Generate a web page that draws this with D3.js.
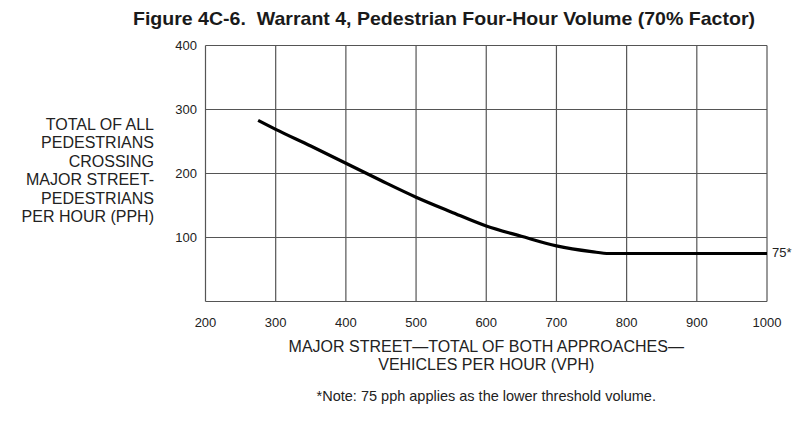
<!DOCTYPE html>
<html>
<head>
<meta charset="utf-8">
<script src="https://cdnjs.cloudflare.com/ajax/libs/d3/7.8.5/d3.min.js"></script>
<style>
  body { margin: 0; background: #fff; }
  svg { font-family: 'Liberation Sans', Arial, sans-serif; fill: #222; }
  .grid line { stroke: #555; stroke-width: 1.2px; }
  .title { white-space: pre; }
</style>
</head>
<body>
<svg id="chart" width="806" height="424"></svg>
<script>

// warrant curve (vph, pph)
const vph = [275, 300, 350, 400, 450, 500, 550, 600, 650, 700, 750, 775, 800, 900, 1000];
const pph = [283, 269, 243, 216, 189, 163, 140, 118, 102, 87, 78, 75, 75, 75, 75];

const xTicks = [200, 300, 400, 500, 600, 700, 800, 900, 1000];
const yTicks = [100, 200, 300, 400];

const yTitle = ["TOTAL OF ALL", "PEDESTRIANS", "CROSSING", "MAJOR STREET-", "PEDESTRIANS", "PER HOUR (PPH)"];
const xTitle = ["MAJOR STREET\u2014TOTAL OF BOTH APPROACHES\u2014", "VEHICLES PER HOUR (VPH)"];

const svg = d3.select("#chart");

const x = d3.scaleLinear().domain([200, 1000]).range([205.5, 767]);
const y = d3.scaleLinear().domain([0, 400]).range([301.5, 45.5]);
const mid = (x(200) + x(1000)) / 2;

// title
svg.append("text")
   .attr("class", "title")
   .attr("x", 444).attr("y", 25)
   .attr("text-anchor", "middle")
   .attr("font-size", 19).attr("font-weight", "bold")
   .attr("textLength", 622).attr("lengthAdjust", "spacingAndGlyphs")
   .attr("fill", "#1a1a1a")
   .text("Figure 4C-6.\u00a0 Warrant 4, Pedestrian Four-Hour Volume (70% Factor)");

// grid
const grid = svg.append("g").attr("class", "grid");
grid.selectAll(".vx").data(xTicks).enter().append("line")
    .attr("x1", d => x(d)).attr("x2", d => x(d))
    .attr("y1", y(0)).attr("y2", y(400));
grid.selectAll(".hy").data([0].concat(yTicks)).enter().append("line")
    .attr("x1", x(200)).attr("x2", x(1000))
    .attr("y1", d => y(d)).attr("y2", d => y(d));

// tick labels
svg.append("g").selectAll("text").data(xTicks).enter().append("text")
   .attr("x", d => x(d)).attr("y", 327)
   .attr("text-anchor", "middle").attr("font-size", 13)
   .text(d => d);
svg.append("g").selectAll("text").data(yTicks).enter().append("text")
   .attr("x", 197).attr("y", d => y(d) + 4.5)
   .attr("text-anchor", "end").attr("font-size", 13)
   .text(d => d);

// axis titles
svg.append("g").selectAll("text").data(yTitle).enter().append("text")
   .attr("x", 154).attr("y", (d, i) => 130 + i * 18.4)
   .attr("text-anchor", "end").attr("font-size", 16)
   .text(d => d);
svg.append("g").selectAll("text").data(xTitle).enter().append("text")
   .attr("x", mid).attr("y", (d, i) => 352 + i * 17.5)
   .attr("text-anchor", "middle").attr("font-size", 16)
   .text(d => d);

svg.append("text")
   .attr("x", mid).attr("y", 401)
   .attr("text-anchor", "middle").attr("font-size", 14.5)
   .text("*Note: 75 pph applies as the lower threshold volume.");

// curve
const pts = vph.map((v, i) => [v, pph[i]]);
svg.append("path")
   .datum(pts)
   .attr("fill", "none")
   .attr("stroke", "#000")
   .attr("stroke-width", 3.2)
   .attr("d", d3.line().x(d => x(d[0])).y(d => y(d[1])).curve(d3.curveMonotoneX));

svg.append("text")
   .attr("x", 772).attr("y", y(75) + 3)
   .attr("font-size", 13)
   .text("75*");

</script>
</body>
</html>
